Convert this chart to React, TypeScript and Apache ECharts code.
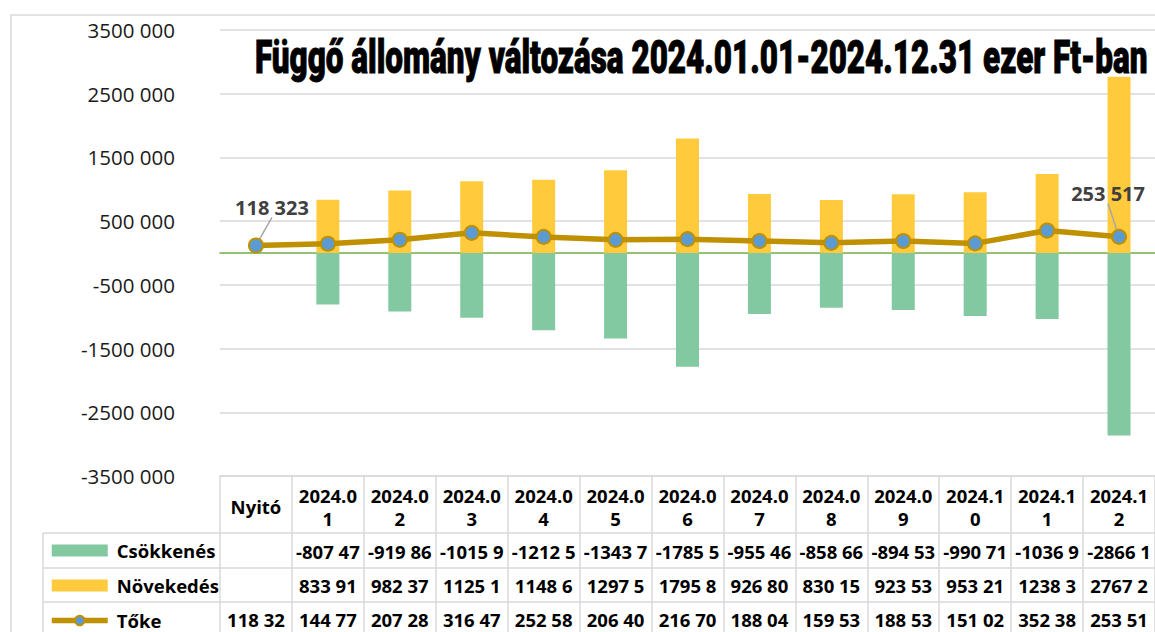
import React, { useEffect, useRef } from "react";
import * as echarts from "echarts";

const categories = ["Nyitó", "2024.01", "2024.02", "2024.03", "2024.04", "2024.05", "2024.06", "2024.07", "2024.08", "2024.09", "2024.10", "2024.11", "2024.12"];
const csokkenes: (number | null)[] = [null, -807475, -919865, -1015910, -1212540, -1343740, -1785540, -955465, -858665, -894535, -990715, -1036940, -2866140];
const novekedes: (number | null)[] = [null, 833915, 982375, 1125140, 1148640, 1297540, 1795840, 926805, 830155, 923535, 953215, 1238340, 2767240];
const toke: number[] = [118323, 144775, 207285, 316475, 252585, 206405, 216705, 188045, 159535, 188535, 151025, 352385, 253517];
const labelledPoints = [0, 12];
const yMin = -3500000;
const yMax = 3500000;
const yStep = 1000000;
const seriesNames = ["Csökkenés", "Növekedés", "Tőke"];
const titleText = "Függő állomány változása 2024.01.01-2024.12.31 ezer Ft-ban";

const C_GREEN = "#82C9A2";
const C_YELLOW = "#FFCB3D";
const C_GOLD = "#BF9000";
const C_BLUE = "#5B9BD5";
const C_GRID = "#D9D9D9";
const FONT = "'Open Sans', 'Noto Sans', sans-serif";

function fmt(v: number | null | undefined): string {
  if (v === null || v === undefined) return "";
  const a = Math.abs(Math.round(v));
  const th = Math.floor(a / 1000);
  const rest = String(a % 1000).padStart(3, "0");
  const s = th > 0 ? `${th} ${rest}` : String(a % 1000);
  return (v < 0 ? "-" : "") + s;
}
// Excel clips the cell contents to the column width
function clip(v: number | null | undefined): string {
  if (v === null || v === undefined) return "";
  const s = fmt(v);
  return s.slice(0, v < 0 ? 7 : 6);
}
function wrapHeader(s: string): string {
  return s.length > 6 ? s.slice(0, 6) + "\n" + s.slice(6) : s;
}

function measure(text: string, font: string): number {
  const c = document.createElement("canvas").getContext("2d");
  if (!c) return text.length * 20;
  c.font = font;
  return c.measureText(text).width;
}

export default function App() {
  const ref = useRef<HTMLDivElement>(null);
  useEffect(() => {
    if (!ref.current) return;
    const chart = echarts.init(ref.current, null, { renderer: "svg" });
    const gridLeft = 220;
    const gridTop = 30;
    const gridBottomY = 476;
    const gridWidth = 937;

    const titleFontSize = 46;
    const titleW = measure(titleText, `900 ${titleFontSize}px Roboto`);
    const titleScale = 893 / titleW;

    const rowAxis = (offset: number, margin: number, formatter: (v: string, i: number) => string, lineShow: boolean, tickLen?: number) => ({
      type: "category",
      data: categories,
      position: "bottom",
      offset,
      gridIndex: 0,
      axisLine: { show: lineShow, onZero: false, lineStyle: { color: C_GRID, width: 1.5 } },
      axisTick: tickLen ? { show: true, length: tickLen, alignWithLabel: false, interval: 0, lineStyle: { color: C_GRID, width: 1.5 } } : { show: false },
      axisLabel: {
        show: true,
        interval: 0,
        margin,
        verticalAlign: "middle",
        fontFamily: FONT,
        fontWeight: "bold",
        fontSize: 18.5,
        lineHeight: 23,
        color: "#000",
        formatter,
      },
      splitLine: { show: false },
    });

    chart.setOption({
      animation: false,
      grid: { left: gridLeft, top: gridTop, width: gridWidth, height: gridBottomY - gridTop },
      legend: {
        orient: "vertical",
        left: 49,
        top: 541,
        padding: 0,
        itemWidth: 56,
        itemHeight: 12,
        itemGap: 16,
        selectedMode: false,
        data: [
          { name: seriesNames[0], icon: "rect" },
          { name: seriesNames[1], icon: "rect" },
          {
            name: seriesNames[2],
            lineStyle: { color: C_GOLD, width: 5.5 },
            itemStyle: { color: C_BLUE, borderColor: C_GOLD, borderWidth: 2 },
          },
        ],
        textStyle: { fontFamily: FONT, fontWeight: "bold", fontSize: 18.5, lineHeight: 18, color: "#000", padding: [0, 0, 0, 4] },
      },
      xAxis: [
        {
          type: "category",
          data: categories,
          position: "bottom",
          axisLine: { show: true, onZero: true, lineStyle: { color: "#70AD47", width: 1.5 } },
          axisTick: { show: false },
          axisLabel: { show: false },
          splitLine: { show: false },
        },
        rowAxis(0, 30.5, (v: string) => wrapHeader(v), true, 165),
        rowAxis(57, 18, (_v: string, i: number) => clip(csokkenes[i]), true),
        rowAxis(92, 17, (_v: string, i: number) => clip(novekedes[i]), true),
        rowAxis(126, 17, (_v: string, i: number) => clip(toke[i]), true),
      ],
      yAxis: {
        type: "value",
        min: yMin,
        max: yMax,
        interval: yStep,
        axisLine: { show: false },
        axisTick: { show: false },
        axisLabel: { margin: 45, fontFamily: FONT, fontSize: 20.5, color: "#1a1a1a", formatter: (v: number) => fmt(v) },
        splitLine: { show: true, lineStyle: { color: C_GRID, width: 1.5 } },
      },
      series: [
        {
          name: seriesNames[0],
          type: "bar",
          stack: "total",
          barWidth: 23,
          data: csokkenes,
          itemStyle: { color: C_GREEN },
          silent: true,
        },
        {
          name: seriesNames[1],
          type: "bar",
          stack: "total",
          barWidth: 23,
          data: novekedes,
          itemStyle: { color: C_YELLOW },
          silent: true,
        },
        {
          name: seriesNames[2],
          type: "line",
          data: toke.map((v, i) => ({
            value: v,
            label: labelledPoints.includes(i) ? { show: true } : { show: false },
          })),
          symbol: "circle",
          symbolSize: 14,
          showAllSymbol: true,
          lineStyle: { color: C_GOLD, width: 5.5 },
          itemStyle: { color: C_BLUE, borderColor: C_GOLD, borderWidth: 2 },
          label: {
            position: "top",
            fontFamily: FONT,
            fontWeight: "bold",
            fontSize: 20,
            color: "#404040",
            formatter: (p: any) => fmt(p.value),
          },
          labelLine: { show: true, lineStyle: { color: "#A6A6A6", width: 1.5 } },
          labelLayout: (p: any) => (p.dataIndex === 0 ? { dx: 16, dy: -15 } : { dx: -11, dy: -20 }),
          z: 5,
          silent: true,
        },
      ],
      graphic: [
        {
          type: "rect",
          shape: { x: 11, y: 15, width: 1300, height: 800 },
          style: { fill: "none", stroke: C_GRID, lineWidth: 1.5 },
          silent: true,
          z: -10,
        },
        {
          type: "text",
          x: 255,
          y: 57,
          scaleX: titleScale,
          style: {
            text: titleText,
            fontFamily: "Roboto",
            fontWeight: 900,
            fontSize: titleFontSize,
            fill: "#000",
            stroke: "#000",
            lineWidth: 1,
            align: "left",
            verticalAlign: "middle",
            textAlign: "left",
            textVerticalAlign: "middle",
          },
          silent: true,
        },
        { type: "line", shape: { x1: 43, y1: 533, x2: 221, y2: 533 }, style: { stroke: C_GRID, lineWidth: 1.5 }, silent: true },
        { type: "line", shape: { x1: 43, y1: 568, x2: 221, y2: 568 }, style: { stroke: C_GRID, lineWidth: 1.5 }, silent: true },
        { type: "line", shape: { x1: 43, y1: 602, x2: 221, y2: 602 }, style: { stroke: C_GRID, lineWidth: 1.5 }, silent: true },
        { type: "line", shape: { x1: 43, y1: 533, x2: 43, y2: 640 }, style: { stroke: C_GRID, lineWidth: 1.5 }, silent: true },
      ],
    });
    return () => chart.dispose();
  }, []);
  return <div ref={ref} style={{ position: "absolute", left: 0, top: 0, width: 1155, height: 632 }} />;
}
